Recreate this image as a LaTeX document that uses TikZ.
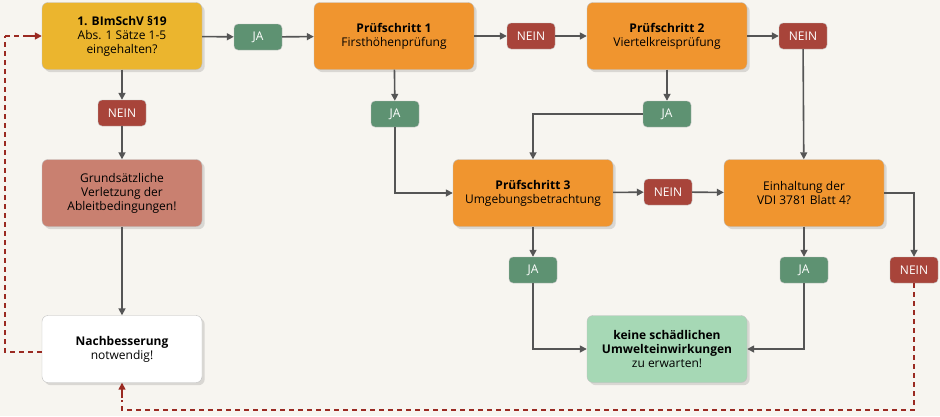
\documentclass[tikz,border=0pt]{standalone}
\usepackage{fontspec}
\setmainfont{Open Sans}
\usetikzlibrary{arrows.meta,shadows}
\definecolor{bg}{HTML}{F7F5F0}
\definecolor{yel}{HTML}{EBB52E}
\definecolor{ora}{HTML}{F0952F}
\definecolor{bro}{HTML}{C98070}
\definecolor{grn}{HTML}{5E9272}
\definecolor{lgrn}{HTML}{A6D8B5}
\definecolor{red}{HTML}{A8443A}
\definecolor{ln}{HTML}{555555}
\definecolor{dred}{HTML}{9A2A22}
\begin{document}
\begin{tikzpicture}[x=1pt,y=-1pt,
 box/.style={rounded corners=6pt,minimum width=160pt,minimum height=67pt,align=center,font=\fontsize{12}{14}\selectfont,draw=black!25,drop shadow={opacity=0.25}},
 tag/.style={rounded corners=4pt,minimum width=48pt,minimum height=26pt,font=\fontsize{12}{14}\selectfont,text=white,draw=black!25},
 ja/.style={tag,fill=grn},
 nein/.style={tag,fill=red},
 ar/.style={draw=ln,line width=1.6pt,-{Triangle[length=7pt,width=7pt]}},
 li/.style={draw=ln,line width=1.6pt},
 da/.style={draw=dred,line width=1.6pt,dashed,dash pattern=on 5pt off 4pt}]
\fill[bg] (0,0) rectangle (940,416);
\useasboundingbox (0,0) rectangle (940,416);
\node[box,fill=yel] (A) at (122,36) {\textbf{1. BImSchV §19}\\Abs. 1 Sätze 1-5\\eingehalten?};
\node[box,fill=ora] (P1) at (394,36) {\textbf{Prüfschritt 1}\\Firsthöhenprüfung};
\node[box,fill=ora] (P2) at (667,36) {\textbf{Prüfschritt 2}\\Viertelkreisprüfung};
\node[box,fill=bro] (G) at (122,193) {Grundsätzliche\\Verletzung der\\Ableitbedingungen!};
\node[box,fill=white] (N) at (122,349) {\textbf{Nachbesserung}\\notwendig!};
\node[box,fill=ora] (P3) at (533,193) {\textbf{Prüfschritt 3}\\Umgebungsbetrachtung};
\node[box,fill=ora] (V) at (804,193) {Einhaltung der\\VDI 3781 Blatt 4?};
\node[box,fill=lgrn] (F) at (667,349) {\textbf{keine schädlichen}\\\textbf{Umwelteinwirkungen}\\zu erwarten!};
\node[ja] (j1) at (258,37) {JA};
\node[nein] (n1) at (531,36) {NEIN};
\node[nein] (n2) at (803,36) {NEIN};
\node[nein] (n0) at (122,113) {NEIN};
\node[ja] (j2) at (395,114) {JA};
\node[ja] (j3) at (667,114) {JA};
\node[nein] (n3) at (668,192) {NEIN};
\node[ja] (j4) at (533,270) {JA};
\node[ja] (j5) at (804,270) {JA};
\node[nein] (n4) at (914,270) {NEIN};
\coordinate (c1) at (5,352);
\coordinate (c2) at (5,36);
\coordinate (c3) at (914,410);
\coordinate (c4) at (122,410);
\path[ar] (A) -- (j1); \path[ar] (j1) -- (P1);
\path[ar] (P1) -- (n1); \path[ar] (n1) -- (P2);
\path[ar] (P2) -- (n2); \path[ar] (n2) -- (V);
\path[ar] (A) -- (n0); \path[ar] (n0) -- (G); \path[ar] (G) -- (N);
\path[ar] (P1) -- (j2); \path[ar] (j2) |- (P3);
\path[ar] (P2) -- (j3); \path[ar] (j3) -| (P3);
\path[ar] (P3) -- (n3); \path[ar] (n3) -- (V);
\path[ar] (P3) -- (j4); \path[ar] (j4) |- (F);
\path[ar] (V) -- (j5); \path[ar] (j5) |- (F);
\path[ar] (V) -| (n4);
\draw[da] (N.west |- c1) -- (c1) -- (c2);
\draw[dred,line width=1.6pt,-{Triangle[length=7pt,width=7pt]}] (c2) ++(20,0) -- (A.west);
\draw[da] (c2) -- ++(22,0);
\draw[da] (n4) -- (c3) -- (c4) -- ++(0,-10);
\draw[dred,line width=1.6pt,-{Triangle[length=7pt,width=7pt]}] (122,398) -- (N.south);
\end{tikzpicture}
\end{document}
